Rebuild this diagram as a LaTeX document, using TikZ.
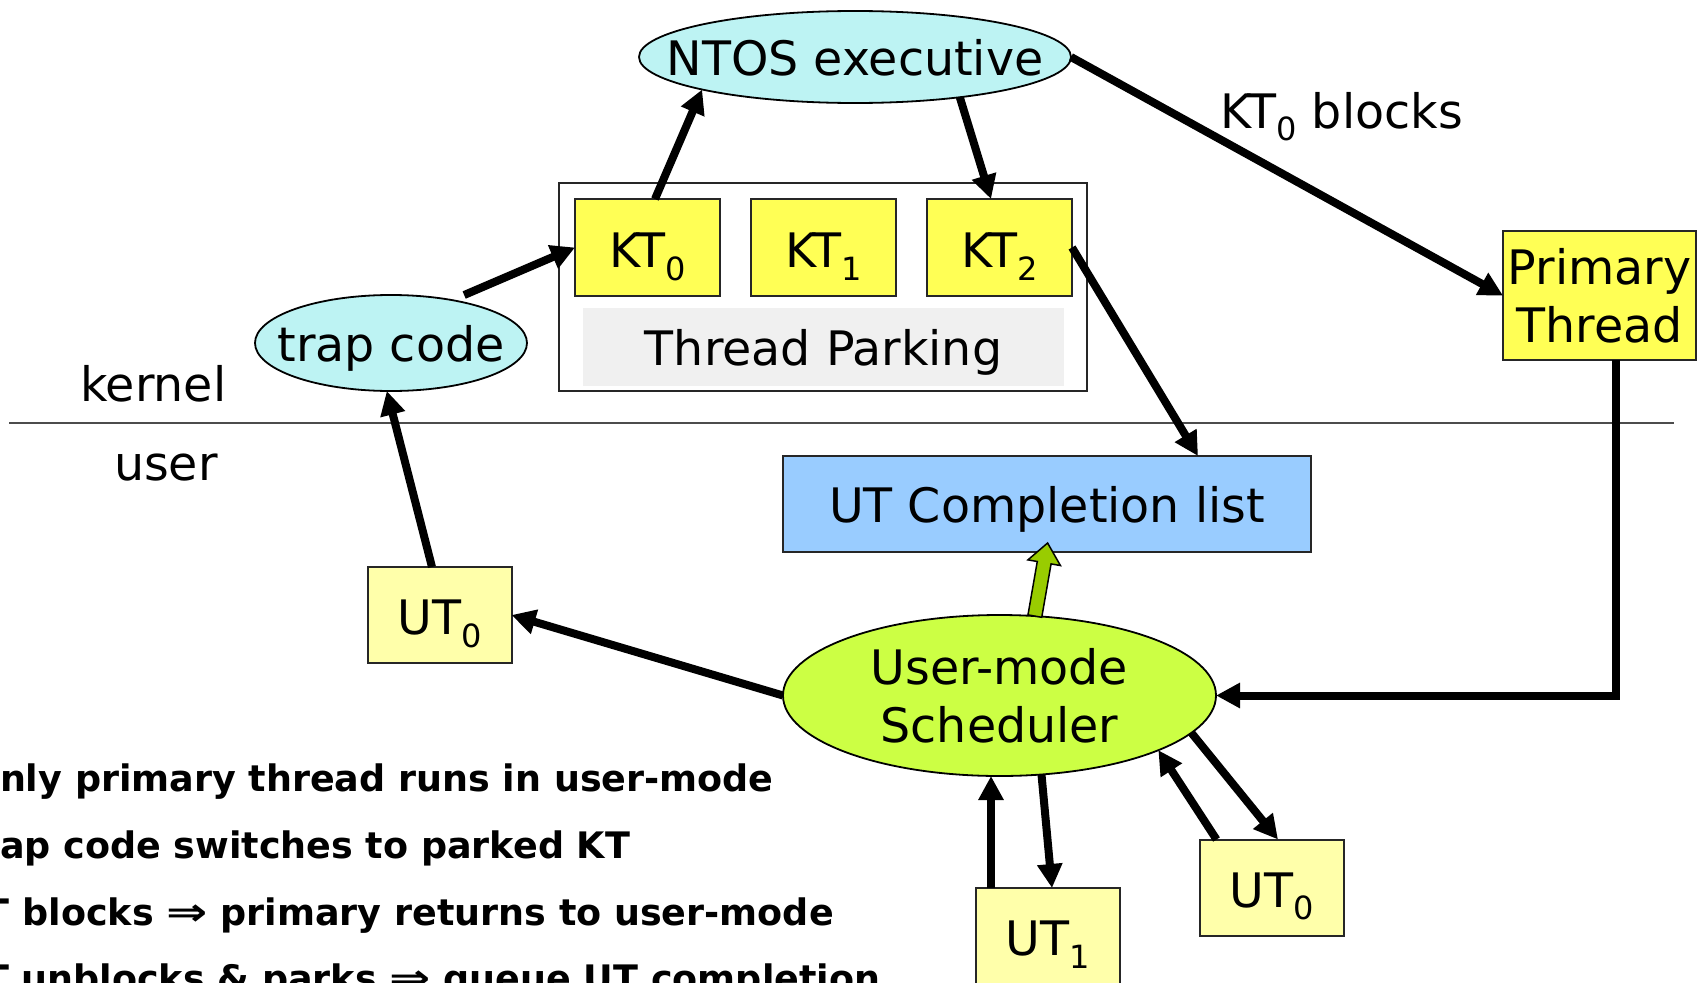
\documentclass[tikz,border=0pt]{standalone}
\usepackage{fontspec}
\setmainfont{DejaVu Sans}
\usetikzlibrary{arrows.meta,shapes.geometric,calc}
\definecolor{cyanfill}{HTML}{BDF3F3}
\definecolor{ktyellow}{HTML}{FFFF55}
\definecolor{utyellow}{HTML}{FFFFAA}
\definecolor{utcblue}{HTML}{99CCFF}
\definecolor{schedgreen}{HTML}{CCFF44}
\definecolor{arrowgreen}{HTML}{99CC00}
\definecolor{parkgray}{HTML}{F0F0F0}
\newcommand\subs[1]{\raisebox{-0.27em}{\fontsize{32}{32}\selectfont #1}}
\newcommand\impl{\scalebox{1.35}[1.05]{⇒}}
\begin{document}
\begin{tikzpicture}[x=1pt,y=-1pt,
  every node/.style={inner sep=0pt,outer sep=0pt},
  txt/.style={font=\fontsize{47.5}{58}\selectfont},
  ln/.style={draw=black!85,line width=2pt},
  kbox/.style={txt,ln,rectangle,fill=ktyellow,minimum width=145pt,minimum height=97pt,text height=40pt,text depth=0pt},
  ubox/.style={txt,ln,rectangle,fill=utyellow,minimum width=144pt,minimum height=96pt,text height=39pt,text depth=0pt},
  oval/.style={txt,ellipse,draw=black,line width=1.8pt,text height=36pt,text depth=0pt},
  arr/.style={line width=8pt,-{Triangle[length=24pt,width=24pt]}},
  bul/.style={font=\fontsize{36.5}{44}\selectfont\bfseries,anchor=base west},
  lbl/.style={txt,anchor=base west},
  sepline/.style={draw=black!70,line width=1.6pt},
]
\useasboundingbox (0,0) rectangle (1704,982);
\clip (0,0) rectangle (1704,982);

% kernel / user separator
\coordinate (sepL) at (9,423);
\coordinate (sepR) at (1674,423);
\draw[sepline] (sepL) -- (sepR);
\node[lbl] (kernel) at (80,401) {kernel};
\node[lbl] (user) at (114,480) {user};

% kernel side
\node[oval,fill=cyanfill,minimum width=432pt,minimum height=92pt] (ntos) at (855,57) {\makebox[0pt]{NTOS executive}};
\node[oval,fill=cyanfill,minimum width=272pt,minimum height=96pt] (trap) at (391,343) {\makebox[0pt]{trap code}};
\node[ln,rectangle,minimum width=528pt,minimum height=208pt] (park) at (823,287) {};
\node[txt,rectangle,fill=parkgray,minimum width=481pt,minimum height=78pt,text height=37pt,text depth=0pt] (tp) at (823.5,347) {Thread Parking};
\node[kbox] (kt0) at (647.5,247.5) {KT\subs{0}};
\node[kbox] (kt1) at (823.5,247.5) {KT\subs{1}};
\node[kbox] (kt2) at (999.5,247.5) {KT\subs{2}};
\node[txt,ln,rectangle,fill=ktyellow,minimum width=193pt,minimum height=129pt,align=center] (prim) at (1599.5,295.5) {Primary\\Thread};
\node[lbl] (blk) at (1220,128) {KT\subs{0} blocks};

% user side
\node[txt,ln,rectangle,fill=utcblue,minimum width=528pt,minimum height=96pt,text height=37pt,text depth=0pt] (utc) at (1047,504) {UT Completion list};
\node[txt,ellipse,draw=black,line width=1.8pt,fill=schedgreen,minimum width=433pt,minimum height=161pt,align=center] (sched) at (999.5,695.5) {\makebox[0pt]{User-mode}\\\makebox[0pt]{Scheduler}};
\node[ubox] (ut0L) at (439.5,615) {UT\subs{0}};
\node[ubox] (ut0R) at (1271.5,887.5) {UT\subs{0}};
\node[ubox] (ut1) at (1047.5,936) {UT\subs{1}};

% connectors
\draw[arr,shorten <=13pt] (trap.35) -- (kt0.west);
\draw[arr] ($(ut0L.north)+(-7.5,0)$) -- (trap.-95);
\draw[arr] ($(kt0.north)+(7.5,0)$) -- (ntos.-168);
\draw[arr] (ntos.-21) -- ($(kt2.north)+(-8.5,0)$);
\draw[arr] (ntos.east) -- (prim.west);
\draw[arr] (kt2.east) -- ($(utc.north)+(151,0)$);
\draw[arr] ($(prim.south)+(16.5,0)$) |- (sched.east);
\draw[arr] (sched.west) -- (ut0L.east);
\coordinate (u1a) at ($(ut1.north)+(-56.5,0)$);
\draw[arr] (u1a) -- (u1a |- sched.south);
\draw[arr] (sched.-62.6) -- ($(ut1.north)+(4.5,0)$);
\draw[arr] ($(ut0R.north)+(-55,0)$) -- (sched.-19.3);
\draw[arr] (sched.-11.6) -- ($(ut0R.north)+(6.5,0)$);

% green block arrow scheduler -> UT completion list
\coordinate (gb) at (sched.66);
\coordinate (gt) at ($(utc.south)+(0.6,-9)$);
\coordinate (gh) at ($(gt)!20pt!(gb)$);
\draw[draw=black,line width=1.5pt,fill=arrowgreen,line join=miter]
  ($(gb)!7pt!-90:(gt)$) -- ($(gh)!7pt!90:(gb)$) -- ($(gh)!16.5pt!90:(gb)$) -- (gt)
  -- ($(gh)!16.5pt!-90:(gb)$) -- ($(gh)!7pt!-90:(gb)$) -- ($(gb)!7pt!90:(gt)$) -- cycle;

% bottom notes
\node[bul] (b1) at (0,791.7) {nly primary thread runs in user-mode};
\node[bul] (b2) at (0,858.3) {ap code switches to parked KT};
\node[bul] (b3) at (-15,925) {T blocks \impl{} primary returns to user-mode};
\node[bul] (b4) at (-16,991.7) {T unblocks \& parks \impl{} queue UT completion};
\end{tikzpicture}
\end{document}
